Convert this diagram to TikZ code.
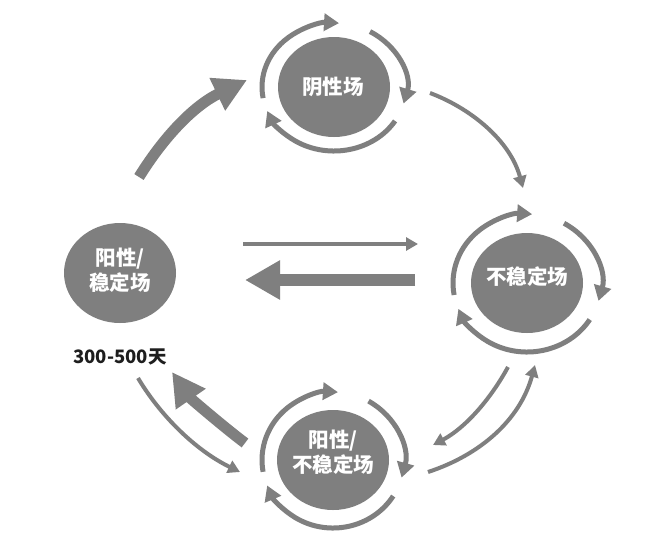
\documentclass[tikz,border=0pt]{standalone}
\usepackage{fontspec}
\newfontfamily\cjk{Noto Sans CJK SC}
\usetikzlibrary{shapes.geometric,arrows.meta,calc}
\definecolor{gr}{RGB}{127,127,127}
\definecolor{dk}{RGB}{30,30,30}
\tikzset{
  blob/.style={ellipse,fill=gr,draw=none,minimum width=112pt,minimum height=100pt,inner sep=0pt},
  ctext/.style={text=white,font=\cjk\bfseries\fontsize{20.5}{25.5}\selectfont,align=center,inner sep=0pt},
  ringarrow/.style={draw=gr,line width=5pt,-{Triangle[width=17pt,length=15pt]}},
  thinarrow/.style={draw=gr,line width=4pt,-{Triangle[width=13pt,length=12pt]}},
  thickarrow/.style={draw=gr,line width=11pt,-{Triangle[width=34pt,length=33pt]}}
}
\newcommand\ringsof[3]{%
  \draw[ringarrow] ($(#1)+(-190:#2 and #3)$) arc[start angle=-190,end angle=-86,x radius=#2,y radius=#3];
  \draw[ringarrow] ($(#1)+(-60:#2 and #3)$) arc[start angle=-60,end angle=15,x radius=#2,y radius=#3];
  \draw[ringarrow] ($(#1)+(32:#2 and #3)$) arc[start angle=32,end angle=158,x radius=#2,y radius=#3];
}
\begin{document}
\begin{tikzpicture}[x=1pt,y=-1pt]
\useasboundingbox[fill=white] (0,0) rectangle (658,539);
% circles
\node[blob] (T) at (334,87) {};
\node[ctext] (Tt) at (333,87) {阴性场};
\node[blob] (R) at (527,283) {};
\node[ctext] (Rt) at (527,277) {不稳定场};
\node[blob] (B) at (333,460) {};
\node[ctext] (Bt) at (333,452) {阳性/\\不稳定场};
\node[blob] (L) at (120,273) {};
\node[ctext] (Lt) at (120,270) {阳性/\\稳定场};
\node[font=\cjk\bfseries\fontsize{18.5}{22}\selectfont,text=dk,inner sep=0pt] (D) at (120,357) {300-500天};
% rings
\ringsof{T}{72}{64}
\ringsof{R}{74}{69}
\ringsof{B}{71}{68}
% named end points
\coordinate (a1) at (139,177); \coordinate (a2) at (247,80);
\coordinate (b1) at (245,443); \coordinate (b2) at (172,372);
\coordinate (c1) at (138,378); \coordinate (c2) at (240,472);
\coordinate (d1) at (430,93);  \coordinate (d2) at (523,188);
\coordinate (e1) at (508,367); \coordinate (e2) at (433,445);
\coordinate (f1) at (428,472); \coordinate (f2) at (535,365);
\coordinate (g1) at (243,244); \coordinate (g2) at (418,244);
\coordinate (h1) at (415,280); \coordinate (h2) at (245,280);
% connectors
\draw[thickarrow] (a1) .. controls (165,135) and (195,105) .. (a2);
\draw[thickarrow] (b1) .. controls (225,428) and (190,398) .. (b2);
\draw[thinarrow] (c1) .. controls (160,415) and (195,450) .. (c2);
\draw[thinarrow] (d1) .. controls (470,108) and (510,140) .. (d2);
\draw[thinarrow] (e1) .. controls (490,400) and (465,428) .. (e2);
\draw[thinarrow] (f1) .. controls (480,455) and (520,420) .. (f2);
\draw[thinarrow,line width=3.5pt] (g1) -- (g2);
\draw[draw=gr,line width=12pt,-{Triangle[width=37pt,length=35pt]}] (h1) -- (h2);
\end{tikzpicture}
\end{document}
